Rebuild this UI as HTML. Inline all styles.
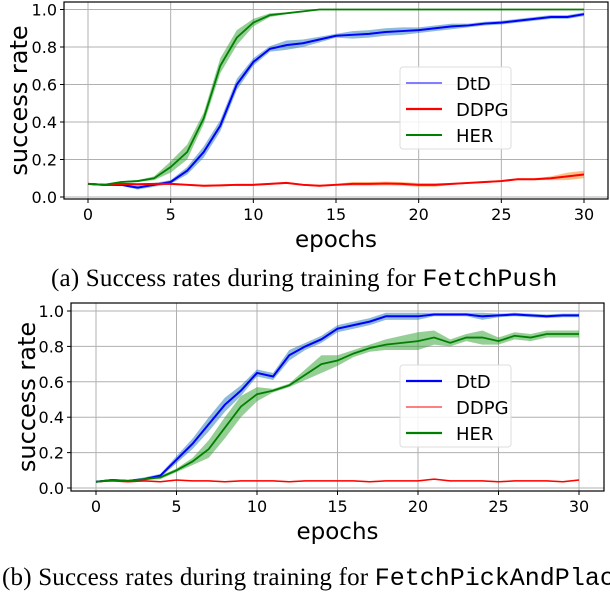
<!DOCTYPE html>
<html><head><meta charset="utf-8"><style>
body{margin:0;width:610px;height:580px;background:#fff;overflow:hidden;font-family:"DejaVu Sans",sans-serif}
svg{position:absolute;left:0;top:0}
.cap{position:absolute;font-family:"Liberation Serif",serif;font-size:25px;white-space:nowrap;color:#000;letter-spacing:0.2px}
.mono{font-family:"Liberation Mono",monospace;letter-spacing:0}
</style></head><body>
<svg id="chart" width="610" height="580"></svg>
<div class="cap" style="left:51px;top:265px">(a) Success rates during training for <span class="mono">FetchPush</span></div>
<div class="cap" style="left:2px;top:564px">(b) Success rates during training for <span class="mono">FetchPickAndPlace</span></div>
<script>
const epochs=[...Array(31).keys()];
const xTicks=[0,5,10,15,20,25,30];
const yTicks=[0,0.2,0.4,0.6,0.8,1.0];
const yTickLabels=["0.0","0.2","0.4","0.6","0.8","1.0"];
const aHER=[.07,.065,.08,.085,.1,.16,.24,.42,.7,.85,.93,.97,.98,.99,1,1,1,1,1,1,1,1,1,1,1,1,1,1,1,1,1];
const aHERBand=[.005,.005,.005,.005,.01,.03,.04,.03,.04,.04,.02,.01,.005,.005,0,0,0,0,0,0,0,0,0,0,0,0,0,0,0,0,0];
const aDtD=[.07,.065,.065,.05,.065,.08,.14,.24,.38,.6,.72,.79,.81,.82,.84,.86,.865,.87,.88,.885,.89,.9,.91,.915,.925,.93,.94,.95,.96,.96,.975];
const aDtDBand=[.005,.005,.005,.01,.01,.01,.02,.03,.03,.03,.02,.015,.025,.02,.015,.01,.02,.02,.02,.02,.015,.015,.015,.01,.01,.01,.01,.01,.01,.01,.01];
const aDDPG=[.07,.065,.07,.068,.07,.07,.065,.06,.062,.065,.065,.07,.075,.065,.06,.065,.07,.07,.072,.07,.065,.065,.07,.075,.08,.085,.095,.095,.1,.11,.12];
const aDDPGBand=[.005,.005,.005,.005,.005,.005,.005,.005,.005,.005,.005,.005,.005,.005,.005,.005,.01,.01,.01,.01,.01,.01,.005,.005,.005,.005,.005,.005,.01,.02,.02];
const bDtD=[.035,.045,.04,.05,.07,.16,.25,.36,.47,.55,.65,.63,.75,.8,.84,.9,.92,.94,.97,.97,.97,.98,.98,.98,.97,.975,.98,.975,.97,.975,.975];
const bDtDBand=[.005,.005,.005,.01,.01,.02,.03,.04,.04,.03,.02,.02,.03,.02,.02,.02,.02,.02,.02,.02,.02,.01,.01,.01,.02,.01,.01,.01,.01,.01,.01];
const bHER=[.035,.045,.04,.05,.06,.1,.15,.22,.34,.46,.53,.55,.58,.64,.7,.72,.76,.79,.81,.82,.83,.85,.82,.85,.85,.83,.86,.85,.87,.87,.87];
const bHERBand=[.005,.005,.005,.005,.01,.01,.02,.05,.06,.06,.04,.01,.01,.03,.05,.03,.02,.02,.03,.04,.05,.04,.02,.02,.04,.02,.02,.02,.02,.02,.02];
const bDDPG=[.035,.04,.035,.04,.035,.045,.04,.04,.035,.04,.04,.04,.035,.04,.04,.04,.04,.035,.04,.04,.04,.05,.04,.04,.04,.035,.04,.04,.04,.035,.045];
const bDDPGBand=epochs.map(()=>.004);
const NS="http://www.w3.org/2000/svg";
const svg=document.getElementById('chart');
function el(t,a,p){const e=document.createElementNS(NS,t);for(const k in a)e.setAttribute(k,a[k]);(p||svg).appendChild(e);return e;}
function draw(cfg){
  const g=el('g',{});
  
  
  const X=v=>cfg.x0+(cfg.x30-cfg.x0)*v/30;
  const Y=v=>cfg.y0+(cfg.y1-cfg.y0)*v;
  el('rect',{x:cfg.L,y:cfg.T,width:cfg.R-cfg.L,height:cfg.B-cfg.T,fill:'#fff'},g);
  xTicks.forEach(t=>{
    const l=el('line',{x1:X(t),x2:X(t),y1:cfg.T,y2:cfg.B,stroke:'#b0b0b0','stroke-width':1},g);
    
    el('line',{x1:X(t),x2:X(t),y1:cfg.B,y2:cfg.B+4,stroke:'#000'},g);
    const tx=el('text',{x:X(t),y:cfg.B+21,'text-anchor':'middle','font-size':16,fill:'#000'},g);tx.textContent=t;
    
  });
  yTicks.forEach((t,i)=>{
    const l=el('line',{x1:cfg.L,x2:cfg.R,y1:Y(t),y2:Y(t),stroke:'#b0b0b0','stroke-width':1},g);
    
    el('line',{x1:cfg.L-4,x2:cfg.L,y1:Y(t),y2:Y(t),stroke:'#000'},g);
    const tx=el('text',{x:cfg.L-7,y:Y(t)+6,'text-anchor':'end','font-size':16,fill:'#000'},g);tx.textContent=yTickLabels[i];
    
  });
  cfg.series.forEach(s=>{
    const up=epochs.map(i=>X(i)+','+Y(s.v[i]+s.b[i])).join(' ');
    const dn=epochs.slice().reverse().map(i=>X(i)+','+Y(s.v[i]-s.b[i])).join(' ');
    const band=el('polygon',{points:up+' '+dn,fill:s.band,'fill-opacity':.5},g);
    
  });
  cfg.series.forEach(s=>{
    const ln=el('polyline',{points:epochs.map(i=>X(i)+','+Y(s.v[i])).join(' '),fill:'none',stroke:s.c,'stroke-width':s.w},g);
    
  });
  el('rect',{x:cfg.L,y:cfg.T,width:cfg.R-cfg.L,height:cfg.B-cfg.T,fill:'none',stroke:'#000','stroke-width':1.2},g);
  const xl=el('text',{x:(cfg.L+cfg.R)/2,y:cfg.B+48,'text-anchor':'middle','font-size':23,fill:'#000'},g);xl.textContent='epochs';
  
  const yl=el('text',{x:0,y:0,'text-anchor':'middle','font-size':24,fill:'#000',transform:`translate(${cfg.ylx},${(cfg.T+cfg.B)/2}) rotate(-90)`},g);yl.textContent='success rate';
  
  const lg=el('g',{},g);
  
  el('rect',{x:cfg.lx,y:cfg.ly,width:111,height:82,rx:3,fill:'#fff','fill-opacity':.85,stroke:'#ddd'},lg);
  cfg.series.forEach((s,i)=>{
    const yy=cfg.ly+16+i*26;
    const e=el('line',{x1:cfg.lx+6,x2:cfg.lx+42,y1:yy,y2:yy,stroke:s.c,'stroke-width':s.lw},lg);
    
    const t=el('text',{x:cfg.lx+56,y:yy+7,'font-size':18,fill:'#000'},lg);t.textContent=s.label;
  });
}
draw({name:'chart-fetchpush',L:64,R:608,T:2,B:199,x0:88,x30:584,y0:197,y1:9.5,ylx:27,lx:400,ly:67,
 series:[{key:'dtd',label:'DtD',v:aDtD,b:aDtDBand,c:'#0000ff',band:'#1f77b4',w:2,lw:1},
  {key:'ddpg',label:'DDPG',v:aDDPG,b:aDDPGBand,c:'#ff0000',band:'#ff7f0e',w:2,lw:2.2},
  {key:'her',label:'HER',v:aHER,b:aHERBand,c:'#008000',band:'#2ca02c',w:1.8,lw:2}]});
draw({name:'chart-fetchpickandplace',L:71,R:604,T:303,B:491,x0:96,x30:579,y0:488,y1:311,ylx:35,lx:400,ly:365,
 series:[{key:'dtd',label:'DtD',v:bDtD,b:bDtDBand,c:'#0000ff',band:'#1f77b4',w:2,lw:2.2},
  {key:'ddpg',label:'DDPG',v:bDDPG,b:bDDPGBand,c:'#ff0000',band:'#ff7f0e',w:1.5,lw:1},
  {key:'her',label:'HER',v:bHER,b:bHERBand,c:'#008000',band:'#2ca02c',w:1.8,lw:2.2}]});
</script>
</body></html>
